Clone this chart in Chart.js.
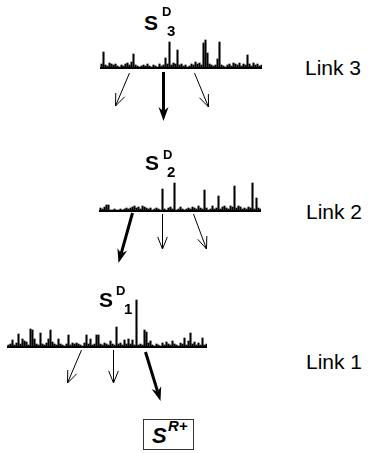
<!DOCTYPE html>
<html>
<head>
<meta charset="utf-8">
<script src="https://cdn.jsdelivr.net/npm/chart.js@4/dist/chart.umd.min.js"></script>
<style>
  html, body { margin: 0; padding: 0; background: #fff; }
  body { width: 368px; height: 453px; position: relative; overflow: hidden; }
  canvas { position: absolute; }
  .t { position: absolute; line-height: 1; font-family: "Liberation Sans", Arial, sans-serif; color: #000; white-space: nowrap; }
  .b { font-weight: bold; }
  .bi { font-weight: bold; font-style: italic; }
  #box { position: absolute; left: 143px; top: 419px; width: 49px; height: 29px; border: 1px solid #333; }
</style>
</head>
<body>
<canvas id="c3"></canvas>
<canvas id="c2"></canvas>
<canvas id="c1"></canvas>

<div class="t b" style="left:144px;top:12.3px;font-size:21px">S</div>
<div class="t b" style="left:162px;top:5.3px;font-size:13px">D</div>
<div class="t b" style="left:167px;top:23px;font-size:15px">3</div>

<div class="t b" style="left:145px;top:152.3px;font-size:21px">S</div>
<div class="t b" style="left:163px;top:148.3px;font-size:13px">D</div>
<div class="t b" style="left:167px;top:164px;font-size:15px">2</div>

<div class="t b" style="left:99px;top:289.3px;font-size:21px">S</div>
<div class="t b" style="left:116px;top:284.3px;font-size:13px">D</div>
<div class="t b" style="left:124px;top:301px;font-size:15px">1</div>

<div class="t" style="left:305px;top:57.3px;font-size:21px">Link 3</div>
<div class="t" style="left:306px;top:200.6px;font-size:21px">Link 2</div>
<div class="t" style="left:306px;top:350.6px;font-size:21px">Link 1</div>

<div id="box"></div>
<div class="t bi" style="left:152px;top:425.1px;font-size:22px">S</div>
<div class="t bi" style="left:168px;top:418px;font-size:15px">R+</div>

<script>
// ---- data: peak intensities (arbitrary units) per spectrum ----
const spectrumD3 = [4,16,3,2,5,4,3,4,2,1,3,2,4,5,3,6,14,3,2,1,2,3,2,4,2,1,3,2,1,4,2,3,10,4,26,3,5,4,18,3,4,2,3,1,2,4,3,6,4,5,3,25,28,15,4,3,2,3,9,26,3,2,1,3,4,2,5,4,3,5,2,4,3,13,4,2,5,3,4,2,3];
const spectrumD2 = [3,2,4,6,6,1,1,2,1,1,2,1,2,3,2,3,4,5,3,4,2,5,4,3,2,3,1,2,3,2,1,22,2,1,3,4,2,28,1,2,4,2,1,2,3,2,4,3,2,5,3,2,21,3,1,2,5,2,3,15,2,4,5,3,2,5,4,25,3,5,4,2,3,2,4,3,28,2,13,3,2];
const spectrumD1 = [2,3,7,2,4,13,3,8,6,5,2,18,17,8,3,2,14,3,2,4,8,17,5,3,2,8,3,2,1,3,12,2,4,3,4,3,2,1,4,12,3,8,2,3,12,12,3,2,4,3,2,6,3,2,20,3,4,2,7,3,8,3,7,2,47,2,3,2,17,15,4,6,2,1,3,2,1,4,2,5,3,2,6,3,2,1,4,3,9,2,6,14,3,5,2,4,2,9,2,3];

// ---- links: arrows [fromPeak, fromLevel, toPeak, toLevel] in each spectrum's units ----
const link3Arrows = [[14,-5,7,-38],[31,-4,31,-53],[46.5,-5,53.5,-39]];
const link2Arrows = [[16,-2,9,-52],[31,-3,31,-38],[46.5,-3,53,-38]];
const link1Arrows = [[36.5,-3,29.5,-36],[52.5,-3,52.5,-36],[68.5,-5,76,-54]];
// which arrow of each link is the selected (bold) path
const link3Selected = 1;
const link2Selected = 0;
const link1Selected = 2;

// ---- arrow plugin: draws through chart scales ----
const arrowPlugin = {
  id: 'linkArrows',
  afterDatasetsDraw(chart, args, opts) {
    const xs = chart.scales.x, ys = chart.scales.y, ctx = chart.ctx;
    (opts.arrows || []).forEach((a, k) => {
      const bold = k === opts.selected;
      const x0 = xs.getPixelForValue(a[0]), y0 = ys.getPixelForValue(a[1]);
      const x1 = xs.getPixelForValue(a[2]), y1 = ys.getPixelForValue(a[3]);
      const ang = Math.atan2(y1 - y0, x1 - x0);
      ctx.save();
      ctx.strokeStyle = '#000'; ctx.fillStyle = '#000';
      if (bold) {
        const L = 14, hw = 5;
        const bx = x1 - L * Math.cos(ang), by = y1 - L * Math.sin(ang);
        const nx = x1 - 0.7 * L * Math.cos(ang), ny = y1 - 0.7 * L * Math.sin(ang);
        ctx.lineWidth = 3;
        ctx.beginPath(); ctx.moveTo(x0, y0); ctx.lineTo(nx, ny); ctx.stroke();
        ctx.beginPath();
        ctx.moveTo(x1, y1);
        ctx.lineTo(bx + hw * Math.sin(ang), by - hw * Math.cos(ang));
        ctx.lineTo(nx, ny);
        ctx.lineTo(bx - hw * Math.sin(ang), by + hw * Math.cos(ang));
        ctx.closePath(); ctx.fill();
      } else {
        const L = 13, sp = 0.38;
        ctx.lineWidth = 1;
        ctx.beginPath(); ctx.moveTo(x0, y0); ctx.lineTo(x1, y1); ctx.stroke();
        ctx.beginPath();
        ctx.moveTo(x1 - L * Math.cos(ang - sp), y1 - L * Math.sin(ang - sp));
        ctx.lineTo(x1, y1);
        ctx.lineTo(x1 - L * Math.cos(ang + sp), y1 - L * Math.sin(ang + sp));
        ctx.stroke();
      }
      ctx.restore();
    });
  }
};

function makeSpectrum(id, values, arrows, selected, left, baselineY, yMax, yMin) {
  const n = values.length;
  const cv = document.getElementById(id);
  const w = 2 * n, h = yMax - yMin;
  cv.width = w; cv.height = h;
  cv.style.left = left + 'px';
  cv.style.top = (baselineY - yMax) + 'px';
  cv.style.width = w + 'px'; cv.style.height = h + 'px';
  const xMin = -0.75, xMax = n - 0.75;
  new Chart(cv, {
    type: 'bar',
    data: {
      datasets: [
        { type: 'bar', data: values.map((v, i) => ({ x: i, y: v })), backgroundColor: '#000', borderWidth: 0, barThickness: 1.4 },
        { type: 'line', data: [{ x: xMin, y: 0 }, { x: xMax, y: 0 }], borderColor: '#000', borderWidth: 2, pointRadius: 0, fill: false }
      ]
    },
    options: {
      responsive: false, animation: false, devicePixelRatio: 1,
      layout: { padding: 0 },
      scales: {
        x: { type: 'linear', min: xMin, max: xMax, offset: false, display: false },
        y: { type: 'linear', min: yMin, max: yMax, display: false }
      },
      plugins: { legend: { display: false }, tooltip: { enabled: false }, linkArrows: { arrows: arrows, selected: selected } }
    },
    plugins: [arrowPlugin]
  });
}

makeSpectrum('c1', spectrumD3, link3Arrows, link3Selected, 100, 68, 32, -58);
makeSpectrum('c2', spectrumD2, link2Arrows, link2Selected, 99, 211, 32, -58);
makeSpectrum('c3', spectrumD1, link1Arrows, link1Selected, 7, 347, 50, -58);
</script>
</body>
</html>
